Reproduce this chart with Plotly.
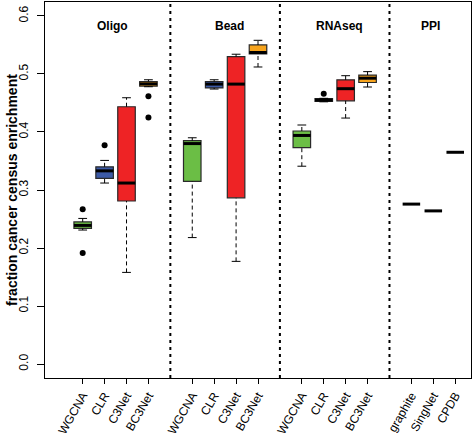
import plotly.graph_objects as go

# ---- data ----
positions = [1, 2, 3, 4, 6, 7, 8, 9, 11, 12, 13, 14, 16, 17, 18]
labels = ["WGCNA", "CLR", "C3Net", "BC3Net",
          "WGCNA", "CLR", "C3Net", "BC3Net",
          "WGCNA", "CLR", "C3Net", "BC3Net",
          "graphite", "SingNet", "CPDB"]
lower = [0.231, 0.312, 0.158, 0.478,
         0.218, 0.474, 0.177, 0.512,
         0.341, 0.452, 0.424, 0.4775,
         0.2757, 0.264, 0.365]
q1 = [0.234, 0.320, 0.281, 0.479,
      0.315, 0.476, 0.2865, 0.5345,
      0.373, 0.4525, 0.4537, 0.4853,
      0.2757, 0.264, 0.365]
median = [0.239, 0.333, 0.312, 0.483,
          0.380, 0.4825, 0.4825, 0.537,
          0.394, 0.455, 0.4746, 0.4927,
          0.2757, 0.264, 0.365]
q3 = [0.245, 0.340, 0.4435, 0.487,
      0.385, 0.487, 0.530, 0.550,
      0.4017, 0.4576, 0.4898, 0.498,
      0.2757, 0.264, 0.365]
upper = [0.251, 0.351, 0.459, 0.490,
         0.390, 0.490, 0.534, 0.558,
         0.412, 0.458, 0.497, 0.504,
         0.2757, 0.264, 0.365]
method_colors = ["#6BBE45", "#3C5AA6", "#EE2325", "#F7A41D"] * 3 + ["#000000"] * 3
outlier_pos = [1, 1, 2, 4, 4, 12]
outlier_val = [0.267, 0.1915, 0.377, 0.4615, 0.425, 0.466]
panel_names = ["Oligo", "Bead", "RNAseq", "PPI"]
panel_x = [2.35, 7.7, 12.7, 16.85]
separators = [5, 10, 15]
y_ticks = [0.0, 0.1, 0.2, 0.3, 0.4, 0.5, 0.6]

BOXW = 0.8
fig = go.Figure()

# boxes
for p, a, m, b, c in zip(positions, q1, median, q3, method_colors):
    if b > a:
        fig.add_trace(go.Box(
            x=[p], q1=[a], median=[m], q3=[b], lowerfence=[a], upperfence=[b],
            width=BOXW, fillcolor=c, line=dict(color="#2a2a2a", width=1.2),
            whiskerwidth=0, boxpoints=False, showlegend=False, hoverinfo="skip"))

# whiskers (dashed)
wx, wy = [], []
for p, lo, a, b, hi in zip(positions, lower, q1, q3, upper):
    if a - lo > 1e-9:
        wx += [p, p, None]; wy += [lo, a, None]
    if hi - b > 1e-9:
        wx += [p, p, None]; wy += [b, hi, None]
fig.add_trace(go.Scatter(x=wx, y=wy, mode="lines",
                         line=dict(color="black", width=1, dash="4px,3px"),
                         showlegend=False, hoverinfo="skip"))

# staples
sx, sy = [], []
for p, lo, a, b, hi in zip(positions, lower, q1, q3, upper):
    if hi > lo:
        for v in (lo, hi):
            sx += [p - BOXW / 4, p + BOXW / 4, None]; sy += [v, v, None]
fig.add_trace(go.Scatter(x=sx, y=sy, mode="lines",
                         line=dict(color="black", width=1),
                         showlegend=False, hoverinfo="skip"))

# medians
mx, my = [], []
for p, m in zip(positions, median):
    mx += [p - BOXW / 2, p + BOXW / 2, None]; my += [m, m, None]
fig.add_trace(go.Scatter(x=mx, y=my, mode="lines",
                         line=dict(color="black", width=3),
                         showlegend=False, hoverinfo="skip"))

# outliers
fig.add_trace(go.Scatter(x=outlier_pos, y=outlier_val, mode="markers",
                         marker=dict(color="black", size=6),
                         showlegend=False, hoverinfo="skip"))

# separators
for s in separators:
    fig.add_shape(type="line", x0=s, x1=s, xref="x", y0=0, y1=1, yref="paper",
                  line=dict(color="black", width=2, dash="3px,4px"), layer="below")

# panel titles
for name, px in zip(panel_names, panel_x):
    fig.add_annotation(x=px, y=0.583, xref="x", yref="y", text="<b>%s</b>" % name,
                       showarrow=False, font=dict(size=12, color="black"))

# y title
fig.add_annotation(x=0, y=0.5, xref="paper", yref="paper", xanchor="center", yanchor="middle",
                   xshift=-33, text="<b>fraction cancer census enrichment</b>",
                   textangle=-90, showarrow=False, font=dict(size=14, color="black"))

fig.update_layout(
    width=473, height=438,
    margin=dict(l=45, r=1, t=1, b=55),
    paper_bgcolor="white", plot_bgcolor="white",
    font=dict(family="Liberation Sans, Arial, sans-serif", color="black"),
    boxmode="overlay",
    xaxis=dict(range=[-0.72, 18.72], tickmode="array", tickvals=positions, ticktext=labels,
               tickangle=-60, ticks="outside", ticklen=5, tickcolor="black",
               showline=True, linecolor="black", linewidth=1, mirror=True,
               showgrid=False, zeroline=False, tickfont=dict(size=12)),
    yaxis=dict(range=[-0.024, 0.624], tickmode="array", tickvals=y_ticks,
               ticktext=["%.1f" % v for v in y_ticks], tickangle=-90,
               ticks="outside", ticklen=7, tickcolor="black", ticklabelstandoff=4,
               showline=True, linecolor="black", linewidth=1, mirror=True,
               showgrid=False, zeroline=False, tickfont=dict(size=12)),
)

fig.write_html("out.html", config={"displayModeBar": False},
               post_script="document.body.style.margin='0';")
